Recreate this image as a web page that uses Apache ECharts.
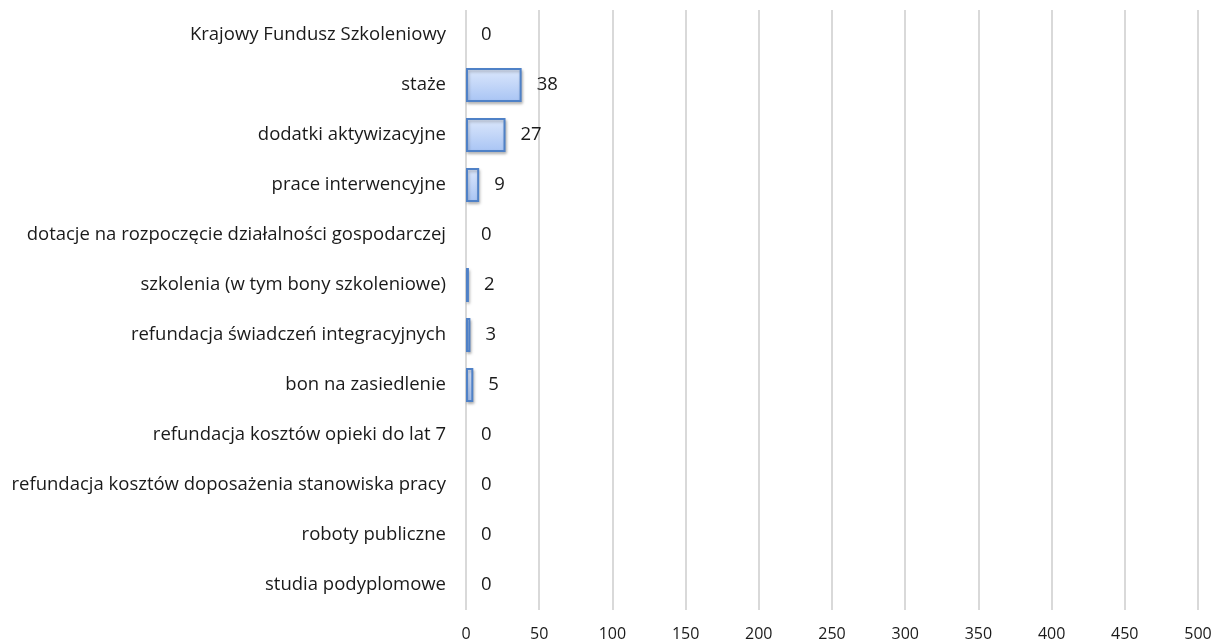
<!DOCTYPE html>
<html><head><meta charset="utf-8">
<script src="https://cdn.jsdelivr.net/npm/echarts@6/dist/echarts.min.js"></script>
<style>html,body{margin:0;padding:0;background:#fff}#c{width:1215px;height:642px}</style>
</head><body><div id="c"></div>
<script>
const categories = [
  "Krajowy Fundusz Szkoleniowy",
  "staże",
  "dodatki aktywizacyjne",
  "prace interwencyjne",
  "dotacje na rozpoczęcie działalności gospodarczej",
  "szkolenia (w tym bony szkoleniowe)",
  "refundacja świadczeń integracyjnych",
  "bon na zasiedlenie",
  "refundacja kosztów opieki do lat 7",
  "refundacja kosztów doposażenia stanowiska pracy",
  "roboty publiczne",
  "studia podyplomowe"
];
const values = [0, 38, 27, 9, 0, 2, 3, 5, 0, 0, 0, 0];
const xTicks = [0, 50, 100, 150, 200, 250, 300, 350, 400, 450, 500];

const chart = echarts.init(document.getElementById('c'), null, {renderer: 'canvas'});
const font = "'Open Sans', 'Liberation Sans', sans-serif";
const barData = values.map(v => v === 0 ? {value: v, itemStyle: {borderWidth: 0, shadowBlur: 0, shadowOffsetX: 0, shadowOffsetY: 0}} : v);
chart.setOption({
  animation: false,
  grid: {left: 466, right: 17, top: 10, bottom: 32, containLabel: false},
  xAxis: {
    type: 'value', min: xTicks[0], max: xTicks[xTicks.length - 1], interval: 50,
    axisLine: {show: false}, axisTick: {show: false},
    splitLine: {show: true, lineStyle: {color: '#d9d9d9', width: 2}},
    axisLabel: {color: '#1a1a1a', fontSize: 16, fontFamily: font, margin: 16}
  },
  yAxis: {
    type: 'category', data: categories, inverse: true,
    axisLine: {show: false}, axisTick: {show: false},
    axisLabel: {color: '#1a1a1a', fontSize: 18.5, fontFamily: font, margin: 20}
  },
  series: [{
    type: 'bar', data: barData, barWidth: 34,
    itemStyle: {
      color: new echarts.graphic.LinearGradient(0, 0, 0, 1, [
        {offset: 0, color: '#dde8fc'},
        {offset: 1, color: '#a8c4f4'}
      ]),
      borderColor: '#4f81c7', borderWidth: 2,
      shadowColor: 'rgba(0,0,0,0.25)', shadowBlur: 3, shadowOffsetX: 1, shadowOffsetY: 2
    },
    label: {show: true, position: 'right', distance: 15, color: '#1a1a1a', fontSize: 18.5, fontFamily: font}
  }]
});
</script></body></html>
